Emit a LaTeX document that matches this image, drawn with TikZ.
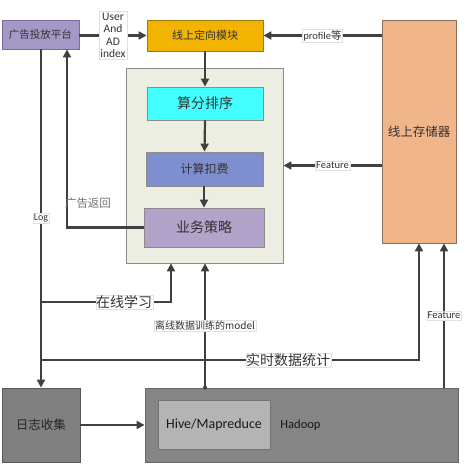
\documentclass[tikz,border=0pt]{standalone}
\usepackage{fontspec}
\setmainfont{Carlito}
\newfontfamily\cjk{Noto Sans CJK SC}
\usetikzlibrary{arrows.meta,calc}
\definecolor{linec}{HTML}{404040}
\definecolor{adc}{HTML}{A597C6}
\definecolor{adb}{HTML}{7A6AA6}
\definecolor{tgtc}{HTML}{F2B400}
\definecolor{tgtb}{HTML}{A07A10}
\definecolor{storec}{HTML}{F0B68A}
\definecolor{storeb}{HTML}{8A7060}
\definecolor{contc}{HTML}{ECEEE2}
\definecolor{contb}{HTML}{8C8C8C}
\definecolor{s1c}{HTML}{44FFFF}
\definecolor{s2c}{HTML}{7F8ECF}
\definecolor{s3c}{HTML}{B1A3CA}
\definecolor{logc}{HTML}{808080}
\definecolor{hdc}{HTML}{858585}
\definecolor{hivec}{HTML}{B4B4B4}
\tikzset{
  box/.style={draw, line width=0.8pt, inner sep=0pt, text=black!80, font=\cjk},
  arr/.style={draw=linec, line width=2.2pt, -{Triangle[length=8pt,width=8pt]}},
  conn/.style={draw=linec, line width=2.2pt},
  lbl/.style={fill=white, draw=black!12, line width=0.3pt, inner sep=1pt, text=black!80},
}
\begin{document}
\begin{tikzpicture}[x=1pt,y=-1pt]
\useasboundingbox[fill=white] (0,0) rectangle (475,467);
% containers and boxes
\node[box, fill=contc, draw=contb, minimum width=157pt, minimum height=195pt] (cont) at (204.5,165.5) {};
\node[box, fill=adc, draw=adb, minimum width=77pt, minimum height=29pt, font=\cjk\fontsize{10.5}{12}\selectfont] (ad) at (40.5,34.5) {广告投放平台};
\node[box, fill=tgtc, draw=tgtb, minimum width=116pt, minimum height=31pt, font=\cjk\fontsize{11}{13}\selectfont] (tgt) at (205,35.5) {线上定向模块};
\node[box, fill=storec, draw=storeb, minimum width=74pt, minimum height=223pt, font=\cjk\fontsize{12.5}{14}\selectfont] (store) at (419,131.5) {线上存储器};
\node[box, fill=s1c, draw=black!45, minimum width=116pt, minimum height=33pt, font=\cjk\fontsize{14}{16}\selectfont] (s1) at (205,103.5) {算分排序};
\node[box, fill=s2c, draw=black!45, minimum width=117pt, minimum height=34pt, font=\cjk\fontsize{12}{14}\selectfont] (s2) at (204.5,169) {计算扣费};
\node[box, fill=s3c, draw=black!45, minimum width=120pt, minimum height=39pt, font=\cjk\fontsize{14}{16}\selectfont] (s3) at (204,227.5) {业务策略};
\node[box, fill=logc, draw=black!65, minimum width=78pt, minimum height=74pt, font=\cjk\fontsize{12.5}{14}\selectfont, text=black!85] (log) at (41,425) {日志收集};
\node[box, fill=hdc, draw=black!60, minimum width=313pt, minimum height=74pt] (hd) at (301.5,425) {};
\node[box, fill=hivec, draw=black!55, minimum width=112pt, minimum height=49pt, font=\fontsize{14}{16}\selectfont, text=black!90] (hive) at (214,424.5) {Hive/Mapreduce};
\node[font=\fontsize{12.5}{14}\selectfont, text=black!90] (hdl) at (300.5,425) {Hadoop};
% connectors
\draw[arr] (ad.east |- tgt.west) -- node[lbl, align=center, font=\fontsize{11.5}{12.5}\selectfont, inner sep=1.5pt] (uai) {User\\And\\AD\\index} (tgt.west);
\draw[arr] (store.west |- tgt.east) -- node[lbl, font=\fontsize{10.5}{12}\selectfont] (prof) {profile{\cjk 等}} (tgt.east);
\draw[arr] (tgt.south) -- (s1.north);
\draw[arr] (s1.south) -- (s2.north);
\draw[arr] (s2.south -| s3.north) -- (s3.north);
\draw[arr] (store.west |- cont.east) -- node[lbl, font=\fontsize{10.5}{12}\selectfont] (feat1) {Feature} (cont.east);
\draw[arr] (s3.west) -| ([xshift=26.5pt]ad.south);
\node[text=black!55, font=\cjk\fontsize{11.5}{13}\selectfont] (ret) at (88,203) {广告返回};
\draw[arr] (ad.south -| log.north) -- node[lbl, font=\fontsize{10}{12}\selectfont] (logl) {Log} (log.north);
\coordinate (j1) at (41,302);
\coordinate (j2) at (41,360);
\draw[arr] (j1) -| node[pos=0.32, lbl, font=\cjk\fontsize{14}{16}\selectfont, inner sep=0.5pt] (online) {在线学习} ([xshift=-33.5pt]cont.south);
\draw[arr] (hd.north -| tgt.south) -- node[lbl, font=\cjk\fontsize{10}{12}\selectfont] (model) {离线数据训练的model} (cont.south -| tgt.south);
\draw[arr] (j2) -| node[pos=0.327, lbl, font=\cjk\fontsize{14}{16}\selectfont, inner sep=0.5pt] (rt) {实时数据统计} (store.south);
\fill[linec] (hd.north -| tgt.south |- j2) circle (2pt);
\draw[arr] ([xshift=25pt]store.south |- hd.north) -- node[lbl, font=\fontsize{10.5}{12}\selectfont] (feat2) {Feature} ([xshift=25pt]store.south);
\draw[arr] (log.east) -- (hd.west);
\end{tikzpicture}
\end{document}
